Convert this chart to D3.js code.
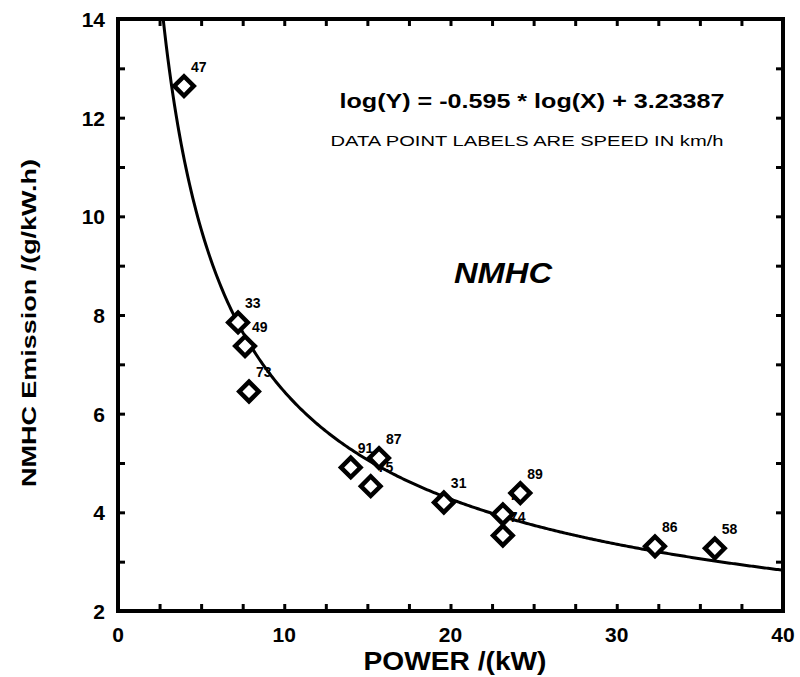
<!DOCTYPE html>
<html><head><meta charset="utf-8">
<script src="https://cdn.jsdelivr.net/npm/d3@7"></script>
<style>body{margin:0;background:#fff}svg{display:block}text{font-family:"Liberation Sans",Arial,Helvetica,sans-serif}</style>
</head><body>
<script>
const powerKW = [3.97, 7.22, 7.64, 7.88, 14.0, 15.7, 15.2, 19.6, 23.15, 24.2, 23.15, 32.3, 35.9];
const emission = [12.64, 7.85, 7.37, 6.45, 4.91, 5.1, 4.53, 4.2, 3.96, 4.39, 3.53, 3.31, 3.27];
const speedLabels = ["47","33","49","73","91","87","75","31","71","89","74","86","58"];
const xTicks = [0,10,20,30,40];
const yTicks = [2,4,6,8,10,12,14];
const fitSlope = -0.595, fitIntercept = 3.23387;

const W=800,H=677, m={l:118,r:17,t:19,b:66};
const svg=d3.select("body").append("svg").attr("width",W).attr("height",H);
const x=d3.scaleLinear().domain([0,40]).range([m.l,W-m.r]);
const y=d3.scaleLinear().domain([2,14]).range([H-m.b,m.t]);

svg.append("defs").append("clipPath").attr("id","c").append("rect")
 .attr("x",x(0)).attr("y",y(14)).attr("width",x(40)-x(0)).attr("height",y(2)-y(14));

// frame
svg.append("rect").attr("x",x(0)).attr("y",y(14)).attr("width",x(40)-x(0)).attr("height",y(2)-y(14))
 .attr("fill","none").attr("stroke","#000").attr("stroke-width",4);

// axes with inward ticks
const gx=svg.append("g").attr("transform",`translate(0,${y(2)})`)
 .call(d3.axisBottom(x).tickValues(d3.range(0,40.01,2.5)).tickSize(-7).tickFormat(""));
const gxt=svg.append("g").attr("transform",`translate(0,${y(14)})`)
 .call(d3.axisTop(x).tickValues(d3.range(0,40.01,2.5)).tickSize(-7).tickFormat(""));
const gy=svg.append("g").attr("transform",`translate(${x(0)},0)`)
 .call(d3.axisLeft(y).tickValues(d3.range(2,14.01,1)).tickSize(-7).tickFormat(""));
const gyr=svg.append("g").attr("transform",`translate(${x(40)},0)`)
 .call(d3.axisRight(y).tickValues(d3.range(2,14.01,1)).tickSize(-7).tickFormat(""));
[gx,gxt,gy,gyr].forEach(g=>{g.select(".domain").remove();g.selectAll("line").attr("stroke-width",3);});

// tick labels
svg.append("g").selectAll("text").data(xTicks).join("text")
 .attr("x",d=>x(d)).attr("y",y(2)+31).attr("text-anchor","middle")
 .attr("font-size",21).attr("font-weight","bold").text(d=>d);
svg.append("g").selectAll("text").data(yTicks).join("text")
 .attr("x",x(0)-13).attr("y",d=>y(d)+8).attr("text-anchor","end")
 .attr("font-size",21).attr("font-weight","bold").text(d=>d);

// axis titles
svg.append("text").attr("x",455).attr("y",670).attr("text-anchor","middle")
 .attr("font-size",26).attr("font-weight","bold").attr("textLength",183).attr("lengthAdjust","spacingAndGlyphs")
 .text("POWER /(kW)");
svg.append("text").attr("transform",`translate(36,323) rotate(-90)`).attr("text-anchor","middle")
 .attr("font-size",21).attr("font-weight","bold").attr("textLength",328).attr("lengthAdjust","spacingAndGlyphs")
 .text("NMHC Emission /(g/kW.h)");

// fit curve
const xs=d3.range(2.5,40.001,0.1);
svg.append("path").attr("clip-path","url(#c)")
 .datum(xs.map(v=>[v,Math.exp(fitIntercept+fitSlope*Math.log(v))]))
 .attr("d",d3.line().x(d=>x(d[0])).y(d=>y(d[1])))
 .attr("fill","none").attr("stroke","#000").attr("stroke-width",3);

// points
const pts=powerKW.map((p,i)=>({p,e:emission[i],l:speedLabels[i]}));
svg.append("g").selectAll("text").data(pts).join("text")
 .attr("x",d=>x(d.p)+7).attr("y",d=>y(d.e)-14)
 .attr("font-size",14).attr("font-weight","bold").text(d=>d.l);
svg.append("g").selectAll("path").data(pts).join("path")
 .attr("d",d3.symbol(d3.symbolSquare,190)())
 .attr("transform",d=>`translate(${x(d.p)},${y(d.e)}) rotate(45)`)
 .attr("fill","#fff").attr("stroke","#000").attr("stroke-width",4.5);

// annotations
svg.append("text").attr("x",532).attr("y",108).attr("text-anchor","middle")
 .attr("font-size",20).attr("font-weight","bold").attr("textLength",385).attr("lengthAdjust","spacingAndGlyphs")
 .text("log(Y) = -0.595 * log(X) + 3.23387");
svg.append("text").attr("x",527).attr("y",146).attr("text-anchor","middle")
 .attr("font-size",15).attr("textLength",393).attr("lengthAdjust","spacingAndGlyphs")
 .text("DATA POINT LABELS ARE SPEED IN km/h");
svg.append("text").attr("x",503).attr("y",283).attr("text-anchor","middle")
 .attr("font-size",29).attr("font-weight","bold").attr("font-style","italic").attr("textLength",98).attr("lengthAdjust","spacingAndGlyphs")
 .text("NMHC");
</script>
</body></html>
